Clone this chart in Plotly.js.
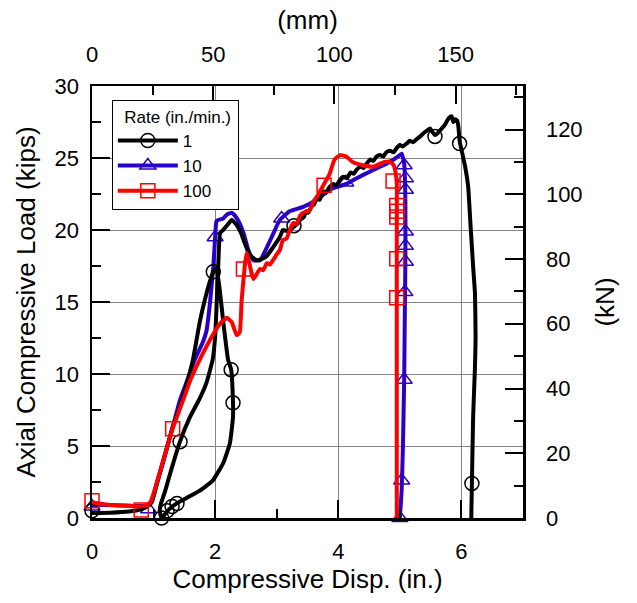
<!DOCTYPE html>
<html>
<head>
<meta charset="utf-8">
<script src="https://cdn.plot.ly/plotly-3.0.1.min.js"></script>
<style>
  html, body { margin: 0; padding: 0; background: #fff; }
  #chart { width: 637px; height: 603px; }
</style>
</head>
<body>
<div id="chart"></div>
<script>
// Axial load vs. compressive displacement for three loading rates (in./min.)

// Rate 1 in./min. : load path (in., kips)
const disp1 = [0, 0.3, 0.6, 0.8, 0.9, 0.97, 1.05, 1.16, 1.31, 1.45, 1.55, 1.64, 1.75, 1.83, 1.92, 1.97, 2.02,
  2.07, 2.13, 2.21, 2.26, 2.29, 2.29, 2.24, 2.13, 1.96, 1.75, 1.54, 1.37, 1.25, 1.13,
  1.10, 1.12, 1.19, 1.27, 1.42, 1.59, 1.75, 1.86, 1.96, 2.0, 2.02, 2.05, 2.08, 2.13, 2.19, 2.27, 2.35, 2.42,
  2.48, 2.56, 2.67, 2.76, 2.84, 2.94, 3.05, 3.1, 3.18, 3.27, 3.33, 3.38, 3.44, 3.48, 3.51, 3.56, 3.61,
  3.65, 3.70, 3.75, 3.80, 3.86, 3.92, 3.97, 4.03, 4.08, 4.14, 4.20, 4.25, 4.30, 4.36, 4.41, 4.46, 4.52,
  4.57, 4.62, 4.68, 4.73, 4.78, 4.84, 4.90, 4.95, 5.00, 5.05, 5.11, 5.16, 5.22, 5.27, 5.33, 5.38, 5.44,
  5.49, 5.53, 5.57, 5.61, 5.65, 5.69, 5.73, 5.77, 5.80, 5.84, 5.87, 5.90, 5.93, 5.95, 5.97, 6.00, 6.06,
  6.11, 6.14, 6.19, 6.22, 6.23, 6.22, 6.19, 6.17, 6.16];
const load1 = [0.35, 0.37, 0.45, 0.6, 0.8, 1.1, 2.3, 4.0, 6.3, 8.0, 9.5, 11.0, 13.6, 15.1, 16.5, 17.1, 17.35,
  16.0, 13.7, 11.0, 10.3, 8.0, 7.0, 5.2, 3.8, 2.6, 1.9, 1.4, 1.0, 0.6, 0.0,
  0.5, 1.0, 1.9, 3.1, 5.2, 7.0, 8.3, 9.4, 11.0, 12.6, 14.4, 17.5, 19.8, 20.0, 20.3, 20.7, 20.35, 19.8,
  19.1, 18.3, 17.9, 18.0, 18.2, 18.8, 19.5, 20.0, 19.9, 20.2, 20.4, 20.7, 20.9, 21.3, 21.2, 21.6, 21.8,
  22.2, 22.1, 22.7, 22.6, 23.0, 23.2, 23.1, 23.5, 23.7, 23.6, 24.0, 23.9, 24.2, 24.4, 24.3, 24.6, 24.9,
  24.8, 25.1, 25.2, 25.1, 25.4, 25.5, 25.4, 25.7, 25.9, 25.8, 26.0, 26.2, 26.1, 26.3, 26.5, 26.7, 26.9,
  27.05, 26.8, 26.6, 26.7, 26.9, 27.1, 27.3, 27.6, 27.8, 27.9, 27.5, 27.7, 27.6, 27.2, 26.2, 25.6, 24.4,
  23.0, 20.9, 17.45, 15.6, 12.5, 10.5, 7.0, 2.4, 0.0];
const mkDisp1 = [0, 1.13, 1.22, 1.30, 1.38, 1.43, 1.97, 2.26, 2.29, 3.28, 5.57, 5.97, 6.17];
const mkLoad1 = [0.5, 0.0, 0.5, 0.8, 1.0, 5.3, 17.1, 10.3, 8.0, 20.3, 26.5, 26.0, 2.4];

// Rate 10 in./min.
const disp10 = [0, 0.3, 0.6, 0.85, 0.95, 1.0, 1.05, 1.16, 1.31, 1.43, 1.55, 1.67, 1.80, 1.86, 1.92, 1.97,
  2.0, 2.02, 2.05, 2.13, 2.20, 2.27, 2.32, 2.37, 2.46, 2.54, 2.62, 2.73, 2.84, 2.95, 3.05, 3.21, 3.43,
  3.65, 3.86, 4.13, 4.30, 4.51, 4.73, 4.90, 5.00, 5.03, 5.07, 5.09, 5.09, 5.08, 5.07, 5.05, 5.03, 5.0];
const load10 = [0.9, 0.9, 0.85, 0.85, 1.0, 1.6, 2.4, 4.0, 6.3, 8.2, 9.6, 11.0, 12.2, 13.0, 15.1, 17.45,
  19.5, 20.6, 20.7, 20.8, 21.1, 21.2, 21.0, 20.7, 19.8, 18.6, 17.9, 17.9, 18.8, 19.8, 20.7, 21.3, 21.6,
  22.1, 22.8, 23.2, 23.6, 24.05, 24.5, 24.9, 25.2, 25.3, 24.6, 22.0, 18.0, 14.0, 9.6, 5.0, 2.0, 0.0];
const mkDisp10 = [0, 0.92, 2.0, 3.08, 4.12, 5.07, 5.09, 5.09, 5.09, 5.09, 5.09, 5.08, 5.07, 5.03, 5.0];
const mkLoad10 = [0.8, 0.6, 19.5, 20.8, 23.3, 24.5, 23.6, 22.8, 19.9, 18.9, 17.8, 15.7, 9.6, 2.6, 0.0];

// Rate 100 in./min.
const disp100 = [0, 0.29, 0.6, 0.78, 0.9, 0.95, 1.0, 1.05, 1.16, 1.31, 1.48, 1.60, 1.75, 1.92, 2.08, 2.19,
  2.27, 2.35, 2.40, 2.43, 2.48, 2.51, 2.56, 2.62, 2.67, 2.73, 2.78, 2.84, 2.89, 2.94, 3.0, 3.05, 3.1,
  3.16, 3.22, 3.27, 3.32, 3.38, 3.43, 3.5, 3.54, 3.6, 3.65, 3.77, 3.86, 3.94, 4.03, 4.13, 4.24, 4.40,
  4.57, 4.73, 4.84, 4.90, 4.93, 4.95, 4.95, 4.95, 4.95];
const load100 = [1.1, 0.9, 0.85, 0.8, 0.9, 1.1, 1.7, 2.4, 4.0, 6.2, 8.2, 9.6, 11.0, 12.4, 13.5, 13.9,
  13.6, 12.7, 12.9, 15.1, 17.45, 18.4, 17.6, 16.6, 16.9, 17.3, 17.2, 17.7, 17.6, 17.9, 18.3, 18.6, 19.3,
  19.4, 20.1, 20.5, 20.4, 21.0, 21.2, 21.3, 21.4, 22.0, 22.3, 23.2, 23.9, 24.9, 25.2, 25.1, 24.7, 24.5,
  24.4, 24.7, 24.75, 24.5, 24.0, 23.2, 20.0, 10.0, 0.0];
const mkDisp100 = [0, 0.8, 1.31, 2.46, 3.77, 4.89, 4.95, 4.95, 4.95, 4.95, 4.95];
const mkLoad100 = [1.2, 0.55, 6.2, 17.3, 23.1, 23.4, 21.7, 21.3, 20.9, 18.0, 15.3];

const rateNames = ['1', '10', '100'];
const rateColors = ['#000000', '#2a00c8', '#ff0000'];
const rateSymbols = ['circle-open', 'triangle-up-open', 'square-open'];

// Unit conversions for the secondary axes
const IN_TO_MM = 25.4;
const KIP_TO_KN = 4.44822;
const xMaxIn = 7, yMaxKip = 30;

const FONT = 'Liberation Sans, Arial, sans-serif';
const NBSP = '\u00a0';

function lineTrace(x, y, i) {
  return { x: x, y: y, mode: 'lines', showlegend: false, hoverinfo: 'skip',
    line: { color: rateColors[i], width: 4, shape: 'spline', smoothing: 0.4 } };
}
function markTrace(x, y, i) {
  return { x: x, y: y, mode: 'markers', showlegend: false, hoverinfo: 'skip', cliponaxis: false,
    marker: { symbol: rateSymbols[i], size: 14, color: rateColors[i], line: { width: 1.5, color: rateColors[i] } } };
}
function keyTrace(i) {
  return { x: [null], y: [null], mode: 'lines+markers', name: rateNames[i],
    line: { color: rateColors[i], width: 4 },
    marker: { symbol: rateSymbols[i], size: 14, color: rateColors[i], line: { width: 1.5, color: rateColors[i] } } };
}
function carrier(xa, ya) {
  return { x: [null], y: [null], xaxis: xa, yaxis: ya, mode: 'lines', showlegend: false, hoverinfo: 'skip' };
}

const data = [
  lineTrace(disp10, load10, 1), markTrace(mkDisp10, mkLoad10, 1),
  lineTrace(disp1, load1, 0), markTrace(mkDisp1, mkLoad1, 0),
  lineTrace(disp100, load100, 2), markTrace(mkDisp100, mkLoad100, 2),
  keyTrace(0), keyTrace(1), keyTrace(2),
  carrier('x2', 'y2'), carrier('x3', 'y3'), carrier('x4', 'y4')
];

const tickFont = { family: FONT, size: 22, color: '#000' };
const titleFont = { family: FONT, size: 26, color: '#000' };

function axisBase(extra) {
  return Object.assign({
    showline: true, linecolor: '#000', linewidth: 2.5,
    ticks: 'inside', ticklen: 18, tickwidth: 2, tickcolor: '#000',
    tickfont: tickFont, zeroline: false, fixedrange: true, tick0: 0
  }, extra);
}
// short intermediate ticks, no labels
function minorAxis(extra) {
  return Object.assign({
    showline: false, showgrid: false, zeroline: false, showticklabels: false,
    ticks: 'inside', ticklen: 9, tickwidth: 2, tickcolor: '#000', tick0: 0, fixedrange: true
  }, extra);
}

const layout = {
  width: 637, height: 603,
  margin: { l: 92, r: 114, t: 86, b: 85 },
  paper_bgcolor: '#fff', plot_bgcolor: '#fff',
  font: { family: FONT, color: '#000' },
  showlegend: true,
  xaxis: axisBase({
    range: [0, xMaxIn], dtick: 2, showgrid: true, gridcolor: '#858585', gridwidth: 1,
    ticklabelstandoff: 12,
    title: { text: 'Compressive Disp. (in.)', font: titleFont, standoff: 6 }
  }),
  yaxis: axisBase({
    range: [0, yMaxKip], dtick: 5, showgrid: true, gridcolor: '#858585', gridwidth: 1,
    ticklabelstandoff: 6,
    title: { text: 'Axial Compressive Load (kips)', font: titleFont, standoff: 12 }
  }),
  xaxis2: axisBase({
    overlaying: 'x', side: 'top', anchor: 'y',
    range: [0, xMaxIn * IN_TO_MM], dtick: 50, showgrid: false,
    ticklabelstandoff: 13,
    title: { text: '(mm)', font: titleFont, standoff: 5 }
  }),
  yaxis2: axisBase({
    overlaying: 'y', side: 'right', anchor: 'x',
    range: [0, yMaxKip * KIP_TO_KN], dtick: 20, showgrid: false,
    ticklabelstandoff: 16,
    title: { text: '(kN)', font: titleFont, standoff: 14 }
  }),
  xaxis3: minorAxis({ overlaying: 'x', side: 'bottom', anchor: 'y', range: [0, xMaxIn], dtick: 1 }),
  yaxis3: minorAxis({ overlaying: 'y', side: 'left', anchor: 'x', range: [0, yMaxKip], dtick: 2.5 }),
  xaxis4: minorAxis({ overlaying: 'x', side: 'top', anchor: 'y', range: [0, xMaxIn * IN_TO_MM], dtick: 25 }),
  yaxis4: minorAxis({ overlaying: 'y', side: 'right', anchor: 'x', range: [0, yMaxKip * KIP_TO_KN], dtick: 10 }),
  legend: {
    x: 0.046, y: 0.968, xanchor: 'left', yanchor: 'top',
    bgcolor: '#fff', bordercolor: '#000', borderwidth: 1,
    font: { family: FONT, size: 17, color: '#000' },
    title: { text: NBSP + NBSP + 'Rate (in./min.)' + NBSP, font: { family: FONT, size: 17, color: '#000' } },
    tracegroupgap: 0, itemwidth: 60
  }
};

Plotly.newPlot('chart', data, layout, { staticPlot: true, displayModeBar: false });
</script>
</body>
</html>
